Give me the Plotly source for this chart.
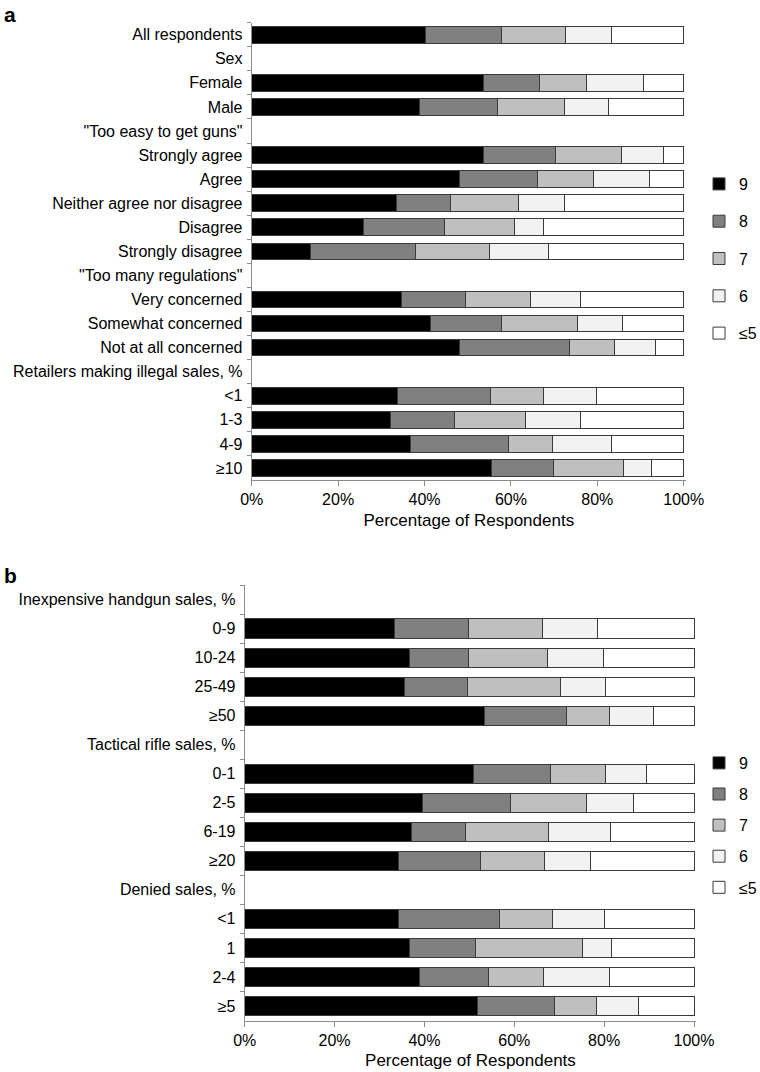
import plotly.graph_objects as go

# ---------------- data ----------------
series_names = ["9", "8", "7", "6", "≤5"]
series_colors = ["#000000", "#808080", "#bfbfbf", "#f2f2f2", "#ffffff"]

cats_a = ["All respondents", "Sex", "Female", "Male", '"Too easy to get guns"',
          "Strongly agree", "Agree", "Neither agree nor disagree", "Disagree",
          "Strongly disagree", '"Too many regulations"', "Very concerned",
          "Somewhat concerned", "Not at all concerned",
          "Retailers making illegal sales, %", "<1", "1-3", "4-9", "≥10"]

a_9 = [40.3, None, 53.7, 38.8, None, 53.7, 48.2, 33.6, 25.8, 13.7, None, 34.6, 41.4, 48.2, None, 33.8, 32.1, 36.7, 55.4]
a_8 = [17.6, None, 12.9, 18.1, None, 16.6, 18.0, 12.4, 18.8, 24.2, None, 14.8, 16.5, 25.4, None, 21.5, 14.8, 22.8, 14.4]
a_7 = [14.8, None, 10.9, 15.4, None, 15.3, 12.9, 15.8, 16.2, 17.2, None, 15.1, 17.5, 10.4, None, 12.2, 16.4, 10.2, 16.2]
a_6 = [10.7, None, 13.2, 10.3, None, 9.7, 12.9, 10.7, 6.7, 13.7, None, 11.7, 10.4, 9.4, None, 12.4, 12.7, 13.6, 6.5]
a_5 = [16.6, None, 9.3, 17.4, None, 4.7, 8.0, 27.5, 32.5, 31.2, None, 23.8, 14.2, 6.6, None, 20.1, 24.0, 16.7, 7.5]

cats_b = ["Inexpensive handgun sales, %", "0-9", "10-24", "25-49", "≥50",
          "Tactical rifle sales, %", "0-1", "2-5", "6-19", "≥20",
          "Denied sales, %", "<1", "1", "2-4", "≥5"]

b_9 = [None, 33.3, 36.6, 35.6, 53.4, None, 50.9, 39.5, 37.2, 34.3, None, 34.3, 36.6, 38.8, 51.9]
b_8 = [None, 16.4, 13.1, 14.0, 18.3, None, 17.2, 19.7, 11.9, 18.1, None, 22.4, 14.8, 15.5, 17.0]
b_7 = [None, 16.5, 17.7, 20.7, 9.5, None, 12.3, 16.8, 18.6, 14.3, None, 11.8, 23.7, 12.1, 9.4]
b_6 = [None, 12.4, 12.4, 10.1, 9.7, None, 9.0, 10.6, 13.8, 10.2, None, 11.5, 6.6, 14.9, 9.3]
b_5 = [None, 21.4, 20.2, 19.6, 9.1, None, 10.6, 13.4, 18.5, 23.1, None, 20.0, 18.3, 18.7, 12.4]

x_tickvals = [0, 20, 40, 60, 80, 100]
x_ticktext = ["0%", "20%", "40%", "60%", "80%", "100%"]
x_title = "Percentage of Respondents"

# ---------------- figure ----------------
W, H = 760, 1072
FONT = "Liberation Sans, Arial, Helvetica, sans-serif"
fig = go.Figure()

for vals, name, col in zip([a_9, a_8, a_7, a_6, a_5], series_names, series_colors):
    fig.add_trace(go.Bar(
        y=cats_a, x=vals, name=name, orientation="h",
        marker=dict(color=col, line=dict(color="#3a3a3a", width=1)),
        width=0.69, xaxis="x", yaxis="y", legend="legend",
        legendgroup="a" + name,
    ))
for vals, name, col in zip([b_9, b_8, b_7, b_6, b_5], series_names, series_colors):
    fig.add_trace(go.Bar(
        y=cats_b, x=vals, name=name, orientation="h",
        marker=dict(color=col, line=dict(color="#3a3a3a", width=1)),
        width=0.66, xaxis="x2", yaxis="y2", legend="legend2",
        legendgroup="b" + name,
    ))

def px_x(p):
    return p / W

def px_y(p):
    return 1 - p / H

# small extension of the x range so the right-hand bar border is not clipped
EXT = 0.5
axis_col = "#8c8c8c"
xcommon = dict(range=[0, 100 + EXT], tickvals=x_tickvals, ticktext=x_ticktext,
               showgrid=False, zeroline=False, showline=True, linecolor=axis_col,
               linewidth=1, ticks="outside", ticklen=5, tickcolor=axis_col,
               tickfont=dict(size=16, color="#000", family=FONT),
               title=dict(text=x_title, font=dict(size=17, color="#000", family=FONT),
                          standoff=6))
ycommon = dict(type="category", autorange="reversed", showgrid=False, zeroline=False,
               showline=True, linecolor=axis_col, linewidth=1, ticks="outside",
               ticklen=4, tickcolor=axis_col, tickson="boundaries",
               ticklabelstandoff=5,
               tickfont=dict(size=16, color="#000", family=FONT),
               categoryorder="array")

a_l, a_r = 251.7, 683.7
b_l, b_r = 244.7, 694.0

fig.update_layout(
    width=W, height=H,
    margin=dict(l=0, r=0, t=0, b=0, autoexpand=False),
    paper_bgcolor="white", plot_bgcolor="white",
    barmode="stack",
    font=dict(family=FONT, size=16, color="#000"),
    xaxis=dict(domain=[px_x(a_l), px_x(a_r + (a_r - a_l) * EXT / 100)], anchor="y", **xcommon),
    yaxis=dict(domain=[px_y(480), px_y(22.7)], anchor="x", categoryarray=cats_a, **ycommon),
    xaxis2=dict(domain=[px_x(b_l), px_x(b_r + (b_r - b_l) * EXT / 100)], anchor="y2", **xcommon),
    yaxis2=dict(domain=[px_y(1020.5), px_y(585)], anchor="x2", categoryarray=cats_b, **ycommon),
    legend=dict(x=px_x(699), xanchor="left", y=px_y(167), yanchor="top",
                tracegroupgap=13.5, font=dict(size=16, family=FONT),
                bgcolor="rgba(0,0,0,0)", traceorder="grouped"),
    legend2=dict(x=px_x(699), xanchor="left", y=px_y(746), yanchor="top",
                 tracegroupgap=7.3, font=dict(size=16, family=FONT),
                 bgcolor="rgba(0,0,0,0)", traceorder="grouped"),
    annotations=[
        dict(text="<b>a</b>", x=px_x(2), y=px_y(14), xref="paper", yref="paper",
             xanchor="left", yanchor="middle", showarrow=False,
             font=dict(size=21, family=FONT, color="#000")),
        dict(text="<b>b</b>", x=px_x(2), y=px_y(575), xref="paper", yref="paper",
             xanchor="left", yanchor="middle", showarrow=False,
             font=dict(size=21, family=FONT, color="#000")),
    ],
)

fig.write_html("out.html",
               config={"displayModeBar": False},
               post_script="document.body.style.margin='0';document.body.style.padding='0';")
